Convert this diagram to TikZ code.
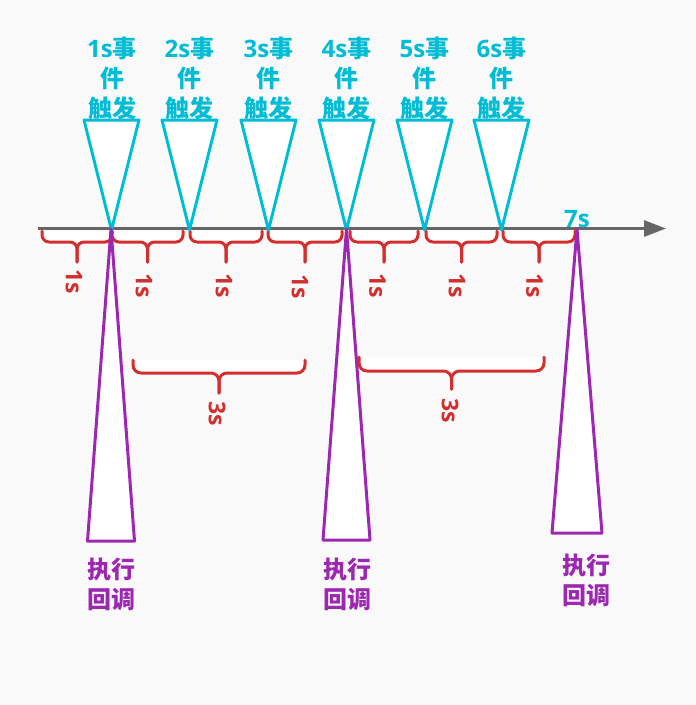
\documentclass[tikz,border=0pt]{standalone}
\usepackage{fontspec}
\newfontfamily\cjk{Noto Sans CJK SC}
\newfontfamily\latf{Open Sans}
\usetikzlibrary{arrows.meta}
\definecolor{bgc}{HTML}{F9F9F9}
\definecolor{evc}{HTML}{00BCD4}
\definecolor{cbc}{HTML}{9C27B0}
\definecolor{brc}{HTML}{D32F2F}
\definecolor{axc}{HTML}{666666}
\newcommand\DrawBrace[6]{%
  \pgfmathsetmacro\brMid{(#1+#2)/2}%
  \fill[white, rounded corners=#6] (#1,#3) -- (#1,#4) -- (#2,#4) -- (#2,#3) -- cycle;
  \draw[bracel, rounded corners=#6] (#1,#3) -- (#1,#4) -- (\brMid,#4) -- (\brMid,#5);
  \draw[bracel, rounded corners=#6] (#2,#3) -- (#2,#4) -- (\brMid,#4) -- (\brMid,#5);
}
\newcommand\Lt[1]{{\latf\bfseries #1}}
\begin{document}
\begin{tikzpicture}[x=1pt,y=-1pt,
  bracel/.style={draw=brc, line width=3pt, line cap=round},
  axisl/.style={draw=axc, line width=3pt},
  evtri/.style={draw=evc, fill=white, line width=3pt, line join=round},
  cbtri/.style={draw=cbc, fill=white, line width=3pt, line join=round},
  evlbl/.style={font=\cjk\bfseries\fontsize{24}{30}\selectfont, text=evc, align=center, inner sep=0pt},
  cblbl/.style={font=\cjk\bfseries\fontsize{24}{30}\selectfont, text=cbc, align=center, inner sep=0pt},
  seclbl/.style={font=\latf\bfseries\fontsize{23}{26}\selectfont, text=brc, rotate=-90, inner sep=0pt},
  timelbl/.style={font=\latf\bfseries\fontsize{24}{28}\selectfont, text=evc, inner sep=0pt}]
\useasboundingbox (0,0) rectangle (696,705);
\fill[bgc] (0,0) rectangle (696,705);

% 1s braces
\DrawBrace{42}{112}{231}{242}{262}{7pt}
\DrawBrace{112}{183}{231}{242}{262}{7pt}
\DrawBrace{190}{262}{231}{242}{262}{7pt}
\DrawBrace{268}{342}{231}{242}{262}{7pt}
\DrawBrace{350}{418}{231}{242}{262}{7pt}
\DrawBrace{426}{497}{231}{242}{262}{7pt}
\DrawBrace{503}{575}{231}{242}{262}{7pt}
% 3s braces
\DrawBrace{133}{305}{360}{373}{393}{8pt}
\DrawBrace{359}{544}{357}{371}{389}{8pt}

% axis
\coordinate (ax0) at (38,228.5);
\coordinate (ax1) at (666,228.5);
\draw[axisl, -{Triangle[length=22pt,width=16pt]}] (ax0) -- (ax1);

% event triangles
\foreach \i/\x in {1/111.5,2/189.5,3/268.5,4/346.5,5/424.5,6/501.5}{
  \coordinate (e\i) at (\x,230);
  \draw[evtri] (e\i) -- ++(-27.5,-110) -- ++(55,0) -- cycle;
}

% callback triangles
\coordinate (c1) at (111,229);
\coordinate (c2) at (346.5,229);
\coordinate (c3) at (577,229);
\draw[cbtri] (c1) -- ++(-23.5,312) -- ++(47,0) -- cycle;
\draw[cbtri] (c2) -- ++(-23.5,311) -- ++(47,0) -- cycle;
\draw[cbtri] (c3) -- ++(-25,304) -- ++(50,0) -- cycle;

% event labels
\node[evlbl] (l1) at (112,78) {\Lt{1s}事\\件\\触发};
\node[evlbl] (l2) at (189.5,78) {\Lt{2s}事\\件\\触发};
\node[evlbl] (l3) at (268.5,78) {\Lt{3s}事\\件\\触发};
\node[evlbl] (l4) at (346.5,78) {\Lt{4s}事\\件\\触发};
\node[evlbl] (l5) at (424.5,78) {\Lt{5s}事\\件\\触发};
\node[evlbl] (l6) at (501.5,78) {\Lt{6s}事\\件\\触发};
\node[timelbl] (l7) at (577,219) {7s};

% second labels
\node[seclbl] (s1) at (74,282) {1s};
\node[seclbl] (s2) at (144,286) {1s};
\node[seclbl] (s3) at (224,286) {1s};
\node[seclbl] (s4) at (300,287) {1s};
\node[seclbl] (s5) at (377.5,286) {1s};
\node[seclbl] (s6) at (457,286) {1s};
\node[seclbl] (s7) at (534.5,286) {1s};
\node[seclbl] (t1) at (217,414) {3s};
\node[seclbl] (t2) at (450,411) {3s};

% callback labels
\node[cblbl] (k1) at (111,584) {执行\\回调};
\node[cblbl] (k2) at (347,584) {执行\\回调};
\node[cblbl] (k3) at (586,580) {执行\\回调};
\end{tikzpicture}
\end{document}
